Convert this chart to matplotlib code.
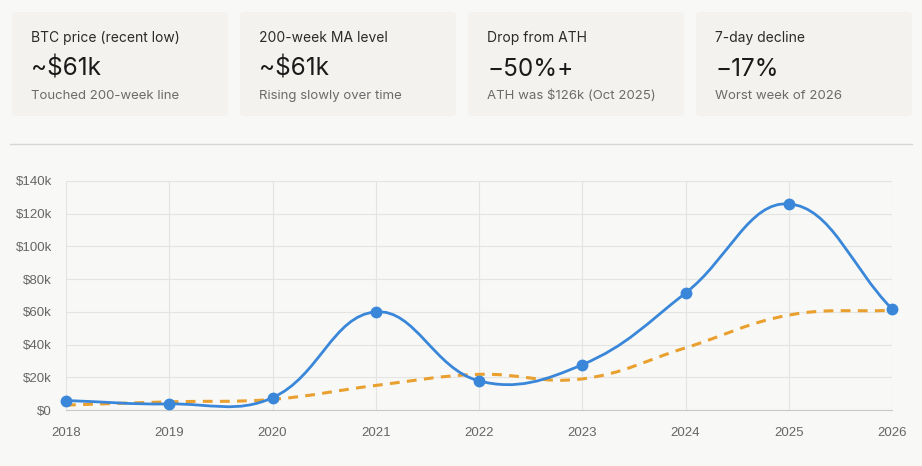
import numpy as np
import matplotlib
matplotlib.use("Agg")
import matplotlib.pyplot as plt
from matplotlib.patches import FancyBboxPatch
from matplotlib.path import Path
from matplotlib.patches import PathPatch

# data
years = [2018, 2019, 2020, 2021, 2022, 2023, 2024, 2025, 2026]
btc_price = [5800, 3700, 7500, 60000, 17800, 27700, 71500, 126000, 61800]
ma_200w = [3000, 5000, 6500, 15000, 21800, 19000, 38000, 58000, 61000]
y_ticks = [0, 20000, 40000, 60000, 80000, 100000, 120000, 140000]
y_labels = ["$0", "$20k", "$40k", "$60k", "$80k", "$100k", "$120k", "$140k"]

card_titles = ["BTC price (recent low)", "200-week MA level", "Drop from ATH", "7-day decline"]
card_values = ["~$61k", "~$61k", "\u221250%+", "\u221217%"]
card_notes = ["Touched 200-week line", "Rising slowly over time",
              "ATH was $126k (Oct 2025)", "Worst week of 2026"]

BG = "#f8f8f7"
CARD = "#f3f2ee"
BLUE = "#3a87d9"
ORANGE = "#e9a02e"

W, H = 922, 466
fig = plt.figure(figsize=(W / 100, H / 100), dpi=100, facecolor=BG)


def fx(px):
    return px / W


def fy(py):
    return 1 - py / H


# stat cards
for i in range(4):
    x0 = 12 + i * 228
    card = FancyBboxPatch((fx(x0), fy(116)), fx(216), 104 / H,
                          boxstyle="round,pad=0,rounding_size=0.006",
                          transform=fig.transFigure, facecolor=CARD, edgecolor="none")
    fig.patches.append(card)
    tx = fx(x0 + 19)
    fig.text(tx, fy(38), card_titles[i], fontsize=10, color="#2b2b2b",
             family="Inter", va="center", ha="left")
    fig.text(tx, fy(69), card_values[i], fontsize=17.5, color="#1a1a1a",
             family="Inter", va="center", ha="left")
    fig.text(tx, fy(96), card_notes[i], fontsize=9.5, color="#6b6b6b",
             family="Inter", va="center", ha="left")

# separator
fig.add_artist(plt.Line2D([fx(10), fx(912)], [fy(144), fy(144)],
                          transform=fig.transFigure, color="#d6d6d4", lw=1))

ax = fig.add_axes([fx(66), fy(410), fx(892 - 66), (410 - 181) / H])
ax.set_facecolor(BG)
ax.set_xlim(years[0], years[-1])
ax.set_ylim(0, 140000)
fig.canvas.draw()


def chartjs_path(xs, ys, t=0.4):
    # Chart.js style cubic spline (tension 0.4), computed in pixel space
    pts = ax.transData.transform(np.column_stack([xs, ys]))
    n = len(pts)
    cps = []
    for k in range(n):
        prev = pts[k - 1] if k > 0 else pts[k]
        cur = pts[k]
        nxt = pts[k + 1] if k < n - 1 else pts[k]
        d01 = np.hypot(*(cur - prev))
        d12 = np.hypot(*(nxt - cur))
        tot = d01 + d12
        s01 = d01 / tot if tot else 0
        s12 = d12 / tot if tot else 0
        cps.append((cur - t * s01 * (nxt - prev), cur + t * s12 * (nxt - prev)))
    verts = [pts[0]]
    codes = [Path.MOVETO]
    for k in range(n - 1):
        verts += [cps[k][1], cps[k + 1][0], pts[k + 1]]
        codes += [Path.CURVE4] * 3
    verts = ax.transData.inverted().transform(np.array(verts))
    return Path(verts, codes)


ax.add_patch(PathPatch(chartjs_path(years, ma_200w), facecolor="none", edgecolor=ORANGE,
                       lw=2.2, linestyle=(0, (3.2, 2.4)), zorder=3))
ax.add_patch(PathPatch(chartjs_path(years, btc_price), facecolor="none", edgecolor=BLUE,
                       lw=2, zorder=4))
ax.plot(years, btc_price, "o", color=BLUE, ms=7.5, zorder=5, clip_on=False)

ax.set_xticks(years)
ax.set_yticks(y_ticks)
ax.set_yticklabels(y_labels)
ax.grid(True, color="#e4e4e2", lw=0.8)
ax.set_axisbelow(True)
for side in ["top", "right", "left"]:
    ax.spines[side].set_visible(False)
ax.spines["bottom"].set_color("#c9c9c7")
ax.tick_params(length=0, labelsize=9.5, labelcolor="#666666", pad=8)
for lab in ax.get_xticklabels() + ax.get_yticklabels():
    lab.set_family("Liberation Sans")
ax.tick_params(axis="x", pad=12)
ax.tick_params(axis="y", pad=10)

fig.savefig("out.png", dpi=100, facecolor=BG)
